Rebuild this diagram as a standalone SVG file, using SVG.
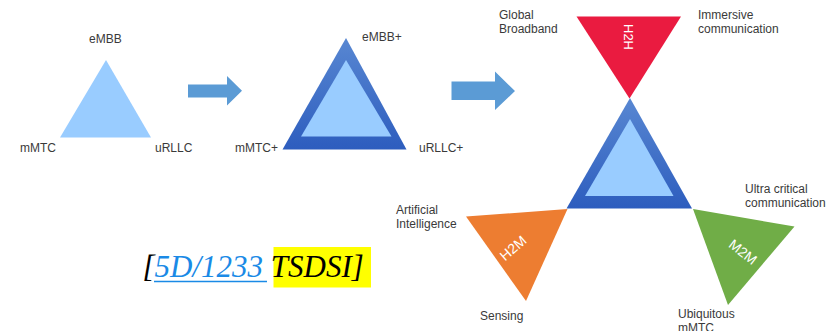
<svg xmlns="http://www.w3.org/2000/svg" width="833" height="331" viewBox="0 0 833 331">
<defs>
<linearGradient id="blueGrad" x1="0" y1="0" x2="0" y2="1">
<stop offset="0" stop-color="#5887D2"/>
<stop offset="1" stop-color="#2D5DBE"/>
</linearGradient>
<style>
.lbl{font-family:"Liberation Sans",Arial,sans-serif;font-size:12px;fill:#3a3a3a}
.inner{fill:#99CCFF}
.outer{fill:url(#blueGrad)}
.wt{font-family:"Liberation Sans",Arial,sans-serif;fill:#ffffff;text-anchor:middle}
.arrow{fill:#5B9BD5}
.cite{font-family:"Liberation Serif","Times New Roman",serif;font-style:italic;font-size:31px}
</style>
</defs>
<rect width="833" height="331" fill="#ffffff"/>

<g id="tri1">
<polygon class="inner" points="106,60 60,137.5 151,137.5"/>
<text class="lbl" x="89" y="43">eMBB</text>
<text class="lbl" x="20" y="152">mMTC</text>
<text class="lbl" x="155" y="152">uRLLC</text>
</g>

<g id="tri2">
<polygon class="outer" points="346,38 282.5,149.5 406.5,149.5"/>
<polygon class="inner" points="346,60 301,136.5 391.5,136.5"/>
<text class="lbl" x="362" y="41">eMBB+</text>
<text class="lbl" x="235" y="152">mMTC+</text>
<text class="lbl" x="419" y="152">uRLLC+</text>
</g>

<g id="center">
<polygon class="outer" points="630,98 566.5,208.5 692,208.5"/>
<polygon class="inner" points="630,119 585,196 673.5,196"/>
</g>

<g id="h2h">
<polygon fill="#EA1B40" points="576.5,16.5 681,16.5 629.5,98.5"/>
<text class="wt" font-size="13" transform="translate(628.5,37) rotate(90)" y="4.6">H2H</text>
<text class="lbl" x="499" y="19">Global</text>
<text class="lbl" x="499" y="33">Broadband</text>
<text class="lbl" x="698" y="19">Immersive</text>
<text class="lbl" x="698" y="33">communication</text>
</g>

<g id="h2m">
<polygon fill="#ED7D31" points="466,216.5 567.5,209 526,301"/>
<text class="wt" font-size="14" transform="translate(513,248) rotate(-41)" y="5">H2M</text>
<text class="lbl" x="396" y="214">Artificial</text>
<text class="lbl" x="396" y="228">Intelligence</text>
<text class="lbl" x="480" y="320">Sensing</text>
</g>

<g id="m2m">
<polygon fill="#70AD47" points="693,209 794.5,226.5 728,305"/>
<text class="wt" font-size="14" transform="translate(743,252) rotate(38)" y="5">M2M</text>
<text class="lbl" x="745" y="193">Ultra critical</text>
<text class="lbl" x="745" y="207">communication</text>
<text class="lbl" x="678" y="318">Ubiquitous</text>
<text class="lbl" x="678" y="332">mMTC</text>
</g>

<g id="connectors">
<polygon class="arrow" points="188,84.5 227,84.5 227,76 242,90.7 227,105.5 227,97.5 188,97.5"/>
<polygon class="arrow" points="451.5,81.5 495,81.5 495,71.5 515,91 495,110 495,100 451.5,100"/>
</g>

<g id="citation">
<rect x="273.5" y="247" width="97.5" height="40.5" fill="#FFFF00"/>
<text class="cite" x="142.5" y="277"><tspan fill="#000000">[</tspan><tspan fill="#1A8AE6">5D/1233</tspan><tspan fill="#000000"> TSDSI]</tspan></text>
<line x1="154" y1="281.5" x2="267" y2="281.5" stroke="#1A8AE6" stroke-width="1.6"/>
</g>
</svg>
